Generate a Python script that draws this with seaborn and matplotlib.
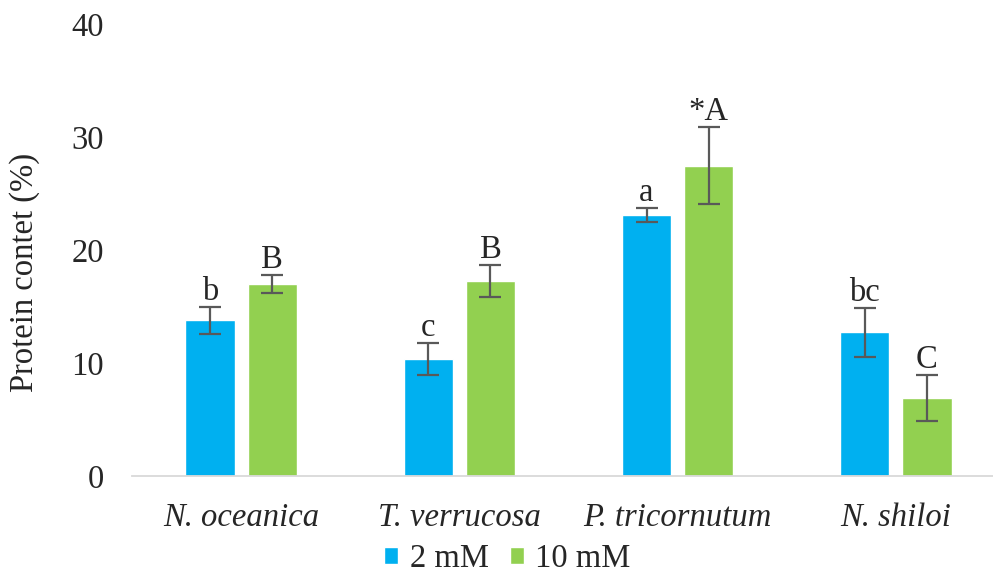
import matplotlib
matplotlib.use("Agg")
import matplotlib.pyplot as plt
import seaborn as sns
import pandas as pd
from matplotlib.container import BarContainer

species = ["N. oceanica", "T. verrucosa", "P. tricornutum", "N. shiloi"]
treatments = ["2 mM", "10 mM"]
mean_2mM = [13.8, 10.35, 23.1, 12.7]
mean_10mM = [17.0, 17.25, 27.45, 6.9]
err_2mM = [1.2, 1.45, 0.65, 2.2]
err_10mM = [0.8, 1.4, 3.4, 2.05]
letters_2mM = ["b", "c", "a", "bc"]
letters_10mM = ["B", "B", "*A", "C"]
colors = ["#00B0F0", "#92D050"]

FS = 23.5

sns.set_theme(style="white")
plt.rcParams["font.family"] = ["Liberation Serif", "DejaVu Serif"]

df = pd.DataFrame({
    "species": species * 2,
    "treatment": [treatments[0]] * 4 + [treatments[1]] * 4,
    "value": mean_2mM + mean_10mM,
})

fig = plt.figure(figsize=(9.93, 5.74), dpi=100)
ax = fig.add_axes([132 / 993, 98 / 574, 873 / 993, 452 / 574])

sns.barplot(data=df, x="species", y="value", hue="treatment", order=species,
            hue_order=treatments, palette=colors, errorbar=None,
            width=0.57, gap=0.21, saturation=1, ax=ax, legend=True)

errs = [err_2mM, err_10mM]
labs = [letters_2mM, letters_10mM]
means = [mean_2mM, mean_10mM]
bar_containers = [c for c in ax.containers if isinstance(c, BarContainer)]
for k, cont in enumerate(bar_containers):
    for j, bar in enumerate(cont.patches):
        xc = bar.get_x() + bar.get_width() / 2
        ax.errorbar(xc, means[k][j], yerr=errs[k][j], color="#595959",
                    elinewidth=1.6, capsize=8, capthick=1.6, fmt="none")
        ax.annotate(labs[k][j], (xc, means[k][j] + errs[k][j]),
                    xytext=(0, 5), textcoords="offset points",
                    ha="center", va="baseline", fontsize=FS)

ax.set_ylim(0, 40)
ax.set_yticks([0, 10, 20, 30, 40])
ax.set_xlim(-0.5, 3.5)
ax.tick_params(axis="y", labelsize=FS, pad=20, length=0)
ax.tick_params(axis="x", labelsize=FS, pad=19, length=0)
for lab in ax.get_xticklabels():
    lab.set_fontstyle("italic")
ax.set_xlabel("")
ax.set_ylabel("Protein contet (%)", fontsize=FS)
ax.yaxis.set_label_coords(-0.105, 0.451)
for s in ["top", "right", "left"]:
    ax.spines[s].set_visible(False)
ax.spines["bottom"].set_color("#D9D9D9")
ax.spines["bottom"].set_linewidth(1.3)
ax.grid(False)

handles, labels = ax.get_legend_handles_labels()
ax.legend_.remove()
fig.legend(handles, labels, loc="center", bbox_to_anchor=(0.511, 0.027),
           ncol=2, frameon=False, fontsize=FS, handlelength=0.43,
           handleheight=0.43, handletextpad=0.35, columnspacing=0.65,
           borderaxespad=0)

fig.savefig("out.png", dpi=100)
